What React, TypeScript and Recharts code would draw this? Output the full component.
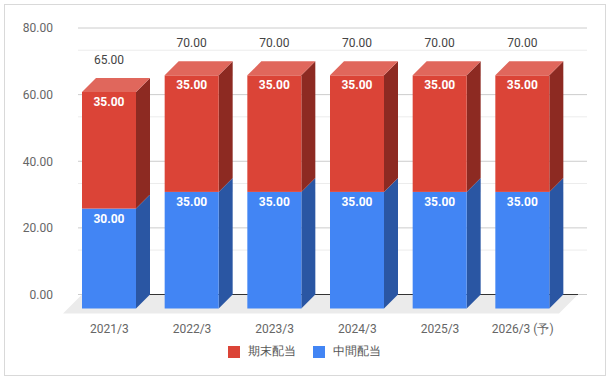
import React from "react";
import {
  BarChart,
  Bar,
  XAxis,
  YAxis,
  CartesianGrid,
  LabelList,
  ReferenceArea,
} from "recharts";

const categories = ["2021/3", "2022/3", "2023/3", "2024/3", "2025/3", "2026/3 (予)"];
const interimDividends = [30, 35, 35, 35, 35, 35];
const yearEndDividends = [35, 35, 35, 35, 35, 35];
const yTicks = [0, 20, 40, 60, 80];
const minorGridValues = [6.67, 13.33, 26.67, 33.33, 46.67, 53.33, 66.67, 73.33];

const data = categories.map((name, i) => ({
  name,
  interim: interimDividends[i],
  yearEnd: yearEndDividends[i],
  total: interimDividends[i] + yearEndDividends[i],
}));

const DEPTH = 14;
const FLOOR = 19;

const colors = {
  red: { front: "#db4437", side: "#8d2a22", top: "#e0675c" },
  blue: { front: "#4285f4", side: "#2a56a3", top: "#6fa1f6" },
};

const makeBox = (c: { front: string; side: string; top: string }, showTop: boolean) =>
  (props: any) => {
    const { x, y, width, height } = props;
    if (!height) return <g />;
    const fx = x - DEPTH;
    const fy = y + DEPTH;
    const side = `${fx + width},${fy} ${x + width},${y} ${x + width},${y + height} ${fx + width},${fy + height}`;
    const top = `${fx},${fy} ${x},${y} ${x + width},${y} ${fx + width},${fy}`;
    return (
      <g>
        <polygon points={side} fill={c.side} />
        <rect x={fx} y={fy} width={width} height={height} fill={c.front} />
        {showTop && <polygon points={top} fill={c.top} />}
      </g>
    );
  };

const InsideLabel = (props: any) => {
  const { x, y, width, value } = props;
  return (
    <text
      x={x - DEPTH + width / 2}
      y={y + DEPTH + 14}
      textAnchor="middle"
      fill="#ffffff"
      fontSize={12}
      fontWeight="bold"
    >
      {Number(value).toFixed(2)}
    </text>
  );
};

const TotalLabel = (props: any) => {
  const { x, y, width, value } = props;
  return (
    <text x={x - DEPTH + width / 2} y={y - 14} textAnchor="middle" fill="#444" fontSize={12}>
      {Number(value).toFixed(2)}
    </text>
  );
};

const XTick = (props: any) => {
  const { x, y, payload } = props;
  return (
    <text x={x - DEPTH} y={y + 36} textAnchor="middle" fill="#666" fontSize={12}>
      {payload.value}
    </text>
  );
};

// floor of the 3d plot plus the dark baseline, both drawn behind the bars
const Floor = (props: any) => {
  const { x, y, width, height } = props;
  const y0 = y + height;
  const pts = `${x},${y0} ${x + width},${y0} ${x + width - FLOOR},${y0 + FLOOR} ${x - FLOOR},${y0 + FLOOR}`;
  return (
    <g>
      <polygon points={pts} fill="#ebebeb" />
      <line x1={x} y1={y0} x2={x + width} y2={y0} stroke="#333" strokeWidth={1} />
    </g>
  );
};

export default function App() {
  return (
    <div
      style={{
        position: "absolute",
        left: 0,
        top: 0,
        width: 609,
        height: 380,
        background: "#fff",
        fontFamily: "Roboto, sans-serif",
      }}
    >
      <div
        style={{
          position: "absolute",
          left: 4,
          top: 4,
          width: 600,
          height: 370,
          border: "1px solid #d9d9d9",
        }}
      />
      <div style={{ position: "absolute", left: 0, top: 0 }}>
        <BarChart
          width={609}
          height={380}
          data={data}
          margin={{ top: 28, right: 22, left: 0, bottom: 55.5 }}
        >
          <CartesianGrid vertical={false} stroke="#ececec" horizontalValues={minorGridValues} />
          <CartesianGrid vertical={false} stroke="#cccccc" horizontalValues={yTicks} />
          <XAxis
            dataKey="name"
            axisLine={false}
            tickLine={false}
            tickSize={0}
            height={30}
            padding={{ left: 4, right: 9 }}
            tick={<XTick />}
            interval={0}
          />
          <YAxis
            type="number"
            domain={[0, 80]}
            ticks={yTicks}
            width={78}
            axisLine={false}
            tickLine={false}
            tickSize={0}
            tickMargin={25}
            tick={{ fill: "#666", fontSize: 12 }}
            tickFormatter={(v: number) => v.toFixed(2)}
          />
          <ReferenceArea y1={0} y2={1} ifOverflow="visible" shape={<Floor />} />
          <Bar
            dataKey="interim"
            stackId="a"
            barSize={54}
            isAnimationActive={false}
            shape={makeBox(colors.blue, false)}
          >
            <LabelList dataKey="interim" content={<InsideLabel />} />
          </Bar>
          <Bar
            dataKey="yearEnd"
            stackId="a"
            barSize={54}
            isAnimationActive={false}
            shape={makeBox(colors.red, true)}
          >
            <LabelList dataKey="yearEnd" content={<InsideLabel />} />
            <LabelList dataKey="total" content={<TotalLabel />} />
          </Bar>
        </BarChart>
      </div>
      <div
        style={{
          position: "absolute",
          left: 0,
          top: 343,
          width: 609,
          display: "flex",
          justifyContent: "center",
          alignItems: "center",
          fontSize: 12,
          color: "#555",
        }}
      >
        <span style={{ width: 12, height: 12, background: colors.red.front, marginRight: 8 }} />
        <span style={{ marginRight: 17 }}>期末配当</span>
        <span style={{ width: 12, height: 12, background: colors.blue.front, marginRight: 8 }} />
        <span>中間配当</span>
      </div>
    </div>
  );
}
